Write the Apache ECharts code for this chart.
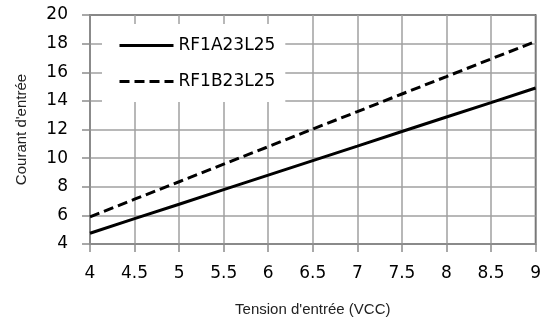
<!DOCTYPE html>
<html>
<head>
<meta charset="utf-8">
<script src="https://cdn.jsdelivr.net/npm/echarts@6/dist/echarts.min.js"></script>
<style>html,body{margin:0;padding:0;background:#fff;}#c{width:544px;height:324px;}</style>
</head>
<body>
<div id="c"></div>
<script>
const voltages = [4, 4.5, 5, 5.5, 6, 6.5, 7, 7.5, 8, 8.5, 9];
const seriesNames = ['RF1A23L25', 'RF1B23L25'];
const currentA = [4.75, 5.77, 6.78, 7.8, 8.81, 9.83, 10.84, 11.86, 12.87, 13.88, 14.9];
const currentB = [5.9, 7.13, 8.35, 9.58, 10.8, 12.03, 13.25, 14.48, 15.7, 16.93, 18.15];
const xName = "Tension d'entrée (VCC)";
const yName = "Courant d'entrée";

const chart = echarts.init(document.getElementById('c'), null, {renderer: 'canvas'});
const pair = arr => voltages.map((v, i) => [v, arr[i]]);
const tickFont = {fontFamily: 'DejaVu Sans', fontSize: 17, color: '#000'};
const nameFont = {fontFamily: 'Liberation Sans', fontSize: 15, color: '#222'};
chart.setOption({
  animation: false,
  backgroundColor: '#fff',
  grid: {left: 90, right: 8, top: 15, bottom: 80, show: true, borderColor: '#000', borderWidth: 1.5, backgroundColor: 'transparent'},
  legend: {
    orient: 'vertical', left: 102, top: 24,
    backgroundColor: '#fff',
    padding: [13, 10, 12, 16],
    itemWidth: 54, itemHeight: 14, itemGap: 19,
    itemStyle: {color: 'transparent', borderColor: 'transparent', borderWidth: 0, opacity: 0},
    lineStyle: {width: 3},
    textStyle: tickFont,
    data: seriesNames
  },
  xAxis: {
    type: 'value', min: 4, max: 9, interval: 0.5,
    name: xName, nameLocation: 'middle', nameGap: 58,
    nameTextStyle: nameFont,
    axisLine: {show: true, onZero: false, lineStyle: {color: '#8c8c8c', width: 1.5}},
    axisTick: {show: true, length: 8, lineStyle: {color: '#8c8c8c', width: 1.5}},
    axisLabel: Object.assign({margin: 21}, tickFont),
    splitLine: {show: true, lineStyle: {color: '#a0a0a0', width: 1.5}}
  },
  yAxis: {
    type: 'value', min: 4, max: 20, interval: 2,
    name: yName, nameLocation: 'middle', nameGap: 61, nameRotate: 90,
    nameTextStyle: nameFont,
    axisLine: {show: true, onZero: false, lineStyle: {color: '#8c8c8c', width: 1.5}},
    axisTick: {show: true, length: 8, lineStyle: {color: '#8c8c8c', width: 1.5}},
    axisLabel: Object.assign({margin: 22}, tickFont),
    splitLine: {show: true, lineStyle: {color: '#a0a0a0', width: 1.5}}
  },
  series: [
    {name: seriesNames[0], type: 'line', data: pair(currentA), symbol: 'none', showSymbol: false,
     lineStyle: {color: '#000', width: 3, type: 'solid'}, itemStyle: {color: '#000'}, z: 3},
    {name: seriesNames[1], type: 'line', data: pair(currentB), symbol: 'none', showSymbol: false,
     lineStyle: {color: '#000', width: 3, type: [10, 5]}, itemStyle: {color: '#000'}, z: 3}
  ]
});
</script>
</body>
</html>
